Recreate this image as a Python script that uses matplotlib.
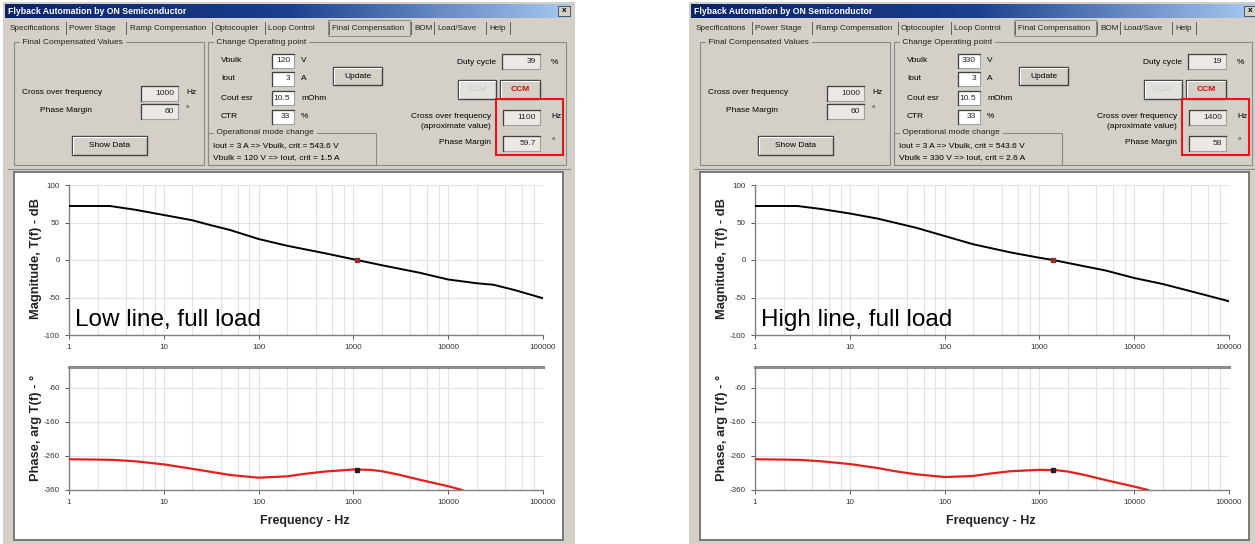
import numpy as np
import matplotlib.pyplot as plt
from matplotlib.patches import Rectangle
from matplotlib.colors import LinearSegmentedColormap
from matplotlib.ticker import LogLocator, NullFormatter

plt.rcParams['font.family'] = ['Liberation Sans', 'DejaVu Sans']
plt.rcParams['axes.unicode_minus'] = False

# values (low line / high line, full load)
case_labels = ['Low line, full load', 'High line, full load']
vbulk = ['120', '330']
duty_cycle = ['39', '19']
crossover_hz = [1100, 1400]
phase_margin = [59.7, 58]
crit_vbulk = ['Iout = 3 A => Vbulk, crit = 543.6 V', 'Iout = 3 A => Vbulk, crit = 543.6 V']
crit_iout = ['Vbulk = 120 V => Iout, crit = 1.5 A', 'Vbulk = 330 V => Iout, crit = 2.6 A']

freq_mag_low = [1, 2.7, 5, 10, 20, 30, 50, 100, 200, 500, 1000, 2000, 5000, 10000, 20000, 30000, 50000, 100000]
mag_low = [72, 72, 67, 60, 53, 47, 40, 28, 19, 9, 1, -7, -17, -26, -31, -33, -40, -51]
freq_mag_high = [1, 2.8, 5, 10, 20, 50, 100, 200, 500, 1000, 1400, 2000, 5000, 10000, 20000, 50000, 100000]
mag_high = [72, 72, 68, 62, 55, 43, 32, 21, 10, 3, 0, -4, -14, -24, -32, -45, -55]

freq_ph = [1, 2, 3, 5, 10, 20, 30, 50, 100, 200, 300, 500, 1000, 1500, 2000, 3000, 5000, 10000, 14000]
ph_low = [-270, -271, -272, -276, -285, -298, -306, -316, -324, -320, -313, -306, -300, -301, -305, -315, -330, -349, -360]
ph_high = [-270, -271, -272, -276, -284, -296, -305, -314, -322, -319, -312, -305, -301, -302, -306, -316, -331, -350, -360]

mag_data = [(freq_mag_low, mag_low), (freq_mag_high, mag_high)]
ph_data = [ph_low, ph_high]

tabs = ['Specifications', 'Power Stage', 'Ramp Compensation', 'Optocoupler', 'Loop Control',
        'Final Compensation', 'BOM', 'Load/Save', 'Help']
tab_x = [10, 69, 130, 215, 268, 332, 414, 437, 489]

W, H = 1255, 544
GRAY = '#d4d0c8'
fig = plt.figure(figsize=(W / 100, H / 100), dpi=100)
bg = fig.add_axes([0, 0, 1, 1])
bg.set_xlim(0, W)
bg.set_ylim(H, 0)
bg.axis('off')


def px_axes(x0, y0, x1, y1):
    return fig.add_axes([x0 / W, 1 - y1 / H, (x1 - x0) / W, (y1 - y0) / H])


def rect(x0, y0, x1, y1, fc, ec='none', lw=0.8, z=1):
    bg.add_patch(Rectangle((x0, y0), x1 - x0, y1 - y0, fc=fc, ec=ec, lw=lw, zorder=z))


def txt(x, y, s, size=6, **kw):
    kw.setdefault('va', 'center')
    bg.text(x, y, s, fontsize=size, zorder=5, **kw)


def field(x0, y0, x1, y1, s, fc='white'):
    rect(x0, y0, x1, y1, fc, ec='#a0a0a0', z=2)
    bg.plot([x0, x0, x1], [y1, y0, y0], color='#404040', lw=0.9, zorder=3)
    txt(x1 - 4, (y0 + y1) / 2, s, ha='right', color='#222222')


def button(x0, y0, x1, y1, s, color='black', fc=GRAY, weight='normal'):
    rect(x0, y0, x1, y1, fc, ec='#404040', lw=1.0, z=2)
    bg.plot([x0 + 1, x0 + 1, x1 - 1], [y1 - 1, y0 + 1, y0 + 1], color='white', lw=0.8, zorder=3)
    txt((x0 + x1) / 2, (y0 + y1) / 2, s, ha='center', color=color, weight=weight)


def group(x0, y0, x1, y1, label):
    rect(x0, y0, x1, y1, 'none', ec='#8a8a8a', lw=0.8, z=2)
    txt(x0 + 6, y0, ' ' + label + ' ', color='#222222',
        bbox=dict(fc=GRAY, ec='none', pad=0.3))


def draw_window(ox, i):
    rect(ox + 3, 2, ox + 575, 544, GRAY)
    # title bar gradient
    grad = np.linspace(0, 1, 256).reshape(1, -1)
    cmap = LinearSegmentedColormap.from_list('t', ['#0a246a', '#1c3f8c', '#a6caf0'])
    bg.imshow(grad, extent=(ox + 5, ox + 571, 18, 4), aspect='auto', zorder=1, cmap=cmap)
    txt(ox + 8, 11, 'Flyback Automation by ON Semiconductor', size=6.3, color='white', weight='bold')
    rect(ox + 558, 6, ox + 570, 16, GRAY, ec='#404040', lw=0.6, z=2)
    txt(ox + 564, 11, 'x', size=6, ha='center', weight='bold')
    # tabs
    rect(ox + 328, 20, ox + 410, 36, GRAY, ec='#808080', lw=0.6, z=2)
    for tx, name in zip(tab_x, tabs):
        txt(ox + tx, 28, name, size=5.9, color='#222222')
    for sx in [66, 126, 212, 265, 329, 411, 434, 486, 510]:
        bg.plot([ox + sx, ox + sx], [22, 34], color='#606060', lw=0.7, zorder=3)
    # left group
    group(ox + 14, 42, ox + 204, 165, 'Final Compensated Values')
    txt(ox + 22, 93, 'Cross over frequency')
    field(ox + 141, 86, ox + 178, 101, '1000', fc='#ece9e4')
    txt(ox + 186, 93, 'Hz')
    txt(ox + 40, 111, 'Phase Margin')
    field(ox + 141, 104, ox + 178, 119, '60', fc='#ece9e4')
    txt(ox + 186, 110, '°')
    button(ox + 72, 136, ox + 147, 155, 'Show Data')
    # operating point group
    group(ox + 208, 42, ox + 566, 165, 'Change Operating point')
    rows = [('Vbulk', vbulk[i], 'V', 61), ('Iout', '3', 'A', 79),
            ('Cout esr', '10.5', 'mOhm', 98), ('CTR', '33', '%', 117)]
    for lab, val, unit, y in rows:
        txt(ox + 221, y, lab)
        field(ox + 272, y - 7, ox + 294, y + 7, val)
        txt(ox + 301, y, unit)
    button(ox + 333, 67, ox + 382, 85, 'Update')
    group(ox + 208, 133, ox + 376, 165, 'Operational mode change')
    txt(ox + 213, 146, crit_vbulk[i])
    txt(ox + 213, 158, crit_iout[i])
    txt(ox + 496, 62, 'Duty cycle', ha='right')
    field(ox + 502, 54, ox + 540, 69, duty_cycle[i], fc='#ece9e4')
    txt(ox + 551, 62, '%')
    button(ox + 458, 80, ox + 496, 99, 'DCM', color='#c8c8c8', fc='#e4e2de')
    button(ox + 500, 80, ox + 540, 99, 'CCM', color='#e00000', weight='bold')
    txt(ox + 491, 116, 'Cross over frequency', ha='right')
    txt(ox + 491, 126, '(aproximate value)', ha='right')
    field(ox + 503, 110, ox + 540, 125, str(crossover_hz[i]), fc='#ece9e4')
    txt(ox + 551, 117, 'Hz')
    txt(ox + 491, 143, 'Phase Margin', ha='right')
    field(ox + 503, 136, ox + 540, 151, str(phase_margin[i]), fc='#ece9e4')
    txt(ox + 551, 142, '°')
    rect(ox + 496, 99, ox + 563, 155, 'none', ec='#e8141b', lw=1.5, z=4)
    # chart frame
    bg.plot([ox + 8, ox + 570], [169, 169], color='#8a8a8a', lw=0.8, zorder=2)
    rect(ox + 14, 172, ox + 563, 540, 'white', ec='#707070', lw=1.3, z=2)


def style_axes(ax):
    ax.set_facecolor('none')
    ax.set_xscale('log')
    ax.set_xlim(1, 1e5)
    ax.set_xticks([1, 10, 100, 1000, 10000, 100000])
    ax.set_xticklabels(['1', '10', '100', '1000', '10000', '100000'])
    ax.xaxis.set_minor_locator(LogLocator(base=10, subs=[2, 4, 6, 8]))
    ax.xaxis.set_minor_formatter(NullFormatter())
    ax.grid(True, axis='x', which='both', color='#e2e2e2', lw=0.8)
    ax.grid(True, axis='y', which='major', color='#e2e2e2', lw=0.8)
    ax.tick_params(labelsize=5.8, colors='#555555', labelcolor='#333333', length=3, width=0.7)
    ax.tick_params(which='minor', length=0)
    ax.spines['right'].set_visible(False)
    ax.spines['top'].set_visible(False)
    for s in ['left', 'bottom']:
        ax.spines[s].set_color('#808080')
        ax.spines[s].set_linewidth(1.0)


for i, ox in enumerate([0, 686]):
    draw_window(ox, i)

    ax1 = px_axes(ox + 69, 185, ox + 543, 335)
    style_axes(ax1)
    fm, mv = mag_data[i]
    ax1.plot(fm, mv, color='black', lw=1.4, zorder=3)
    ax1.plot([crossover_hz[i]], [0], marker='s', ms=2.5, color='#9b2a2a', zorder=4)
    ax1.set_ylim(-100, 100)
    ax1.set_yticks([-100, -50, 0, 50, 100])
    ax1.text(ox + 75, 320, case_labels[i], fontsize=17.5, color='black', va='center',
             transform=bg.transData, zorder=6, clip_on=False)

    ax2 = px_axes(ox + 69, 367, ox + 543, 490)
    style_axes(ax2)
    ax2.spines['top'].set_visible(True)
    ax2.spines['top'].set_color('#8c8c8c')
    ax2.spines['top'].set_linewidth(2.2)
    ax2.plot(freq_ph, ph_data[i], color='#e3201b', lw=1.6, zorder=3)
    ax2.plot([crossover_hz[i]], [phase_margin[i] - 360], marker='s', ms=3, color='#2a1a2a', zorder=4)
    ax2.set_ylim(-360, 0)
    ax2.set_yticks([-360, -260, -160, -60])

    txt(ox + 36, 259, 'Magnitude, T(f) - dB', size=9.3, weight='bold', rotation=90, ha='center', color='#222222')
    txt(ox + 36, 428, 'Phase, arg T(f) - °', size=9.3, weight='bold', rotation=90, ha='center', color='#222222')
    txt(ox + 305, 521, 'Frequency - Hz', size=9, weight='bold', ha='center', color='#222222')

fig.savefig('out.png', dpi=100)
